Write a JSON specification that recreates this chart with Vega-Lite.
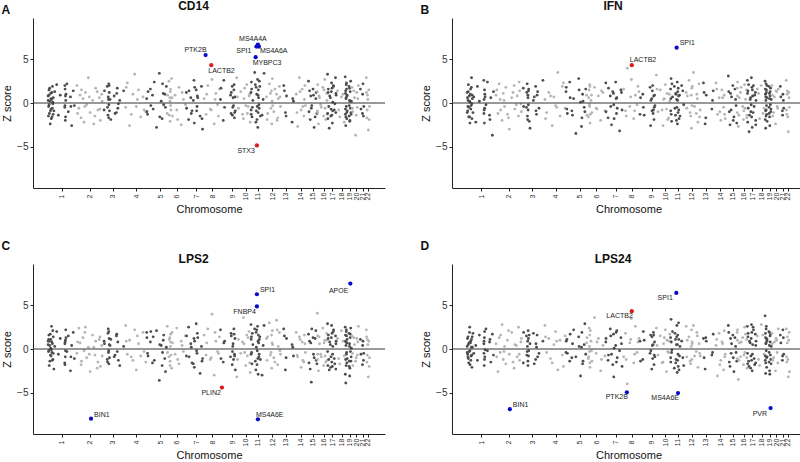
{
"$schema":"https://vega.github.io/schema/vega-lite/v6.json",
"padding":{"left":1,"top":0,"right":0,"bottom":0},
"datasets":{
"genes":[
{"x":1,"a":0.8,"b":1.2,"c":0.5,"d":0.3},{"x":6,"a":-0.4,"b":-0.9,"c":1.1,"d":-0.6},{"x":9,"a":1.5,"b":0.3,"c":-0.2,"d":1.4},{"x":12,"a":-1.2,"b":2.1,"c":0.9,"d":-1.1},{"x":17,"a":0.2,"b":-0.5,"c":-1.4,"d":0.7},{"x":20,"a":-2.4,"b":0.8,"c":1.7,"d":-0.3},{"x":24,"a":1.1,"b":-1.6,"c":0.1,"d":2.5},{"x":27,"a":-0.7,"b":0.1,"c":-0.8,"d":-1.8},{"x":32,"a":0.4,"b":1.6,"c":2.6,"d":0.9},{"x":36,"a":-1.6,"b":-0.3,"c":-0.4,"d":-0.8},{"x":40,"a":1.9,"b":2.9,"c":0.6,"d":1.1},{"x":44,"a":-0.1,"b":-1.8,"c":-1.2,"d":-2.1},{"x":47,"a":0.6,"b":0.5,"c":1.4,"d":0.2},{"x":53,"a":-0.9,"b":-1.1,"c":-2.3,"d":1.8},{"x":60,"a":1.3,"b":0.7,"c":0.3,"d":-0.5},{"x":78,"a":2.1,"b":-2.2,"c":2.0,"d":0.4},{"x":93,"a":-1.4,"b":1.9,"c":-0.6,"d":-1.3},{"x":110,"a":0.9,"b":0.2,"c":1.2,"d":1.6},{"x":150,"a":-0.5,"b":2.6,"c":-1.6,"d":0.6},{"x":153,"a":1.6,"b":-0.8,"c":0.8,"d":-1.9},{"x":155,"a":-2.0,"b":-2.3,"c":-0.9,"d":1.3},{"x":159,"a":0.3,"b":1.0,"c":2.2,"d":-0.9},{"x":169,"a":2.2,"b":-0.2,"c":-0.3,"d":2.3},{"x":182,"a":-1.0,"b":2.4,"c":1.5,"d":-0.2},{"x":201,"a":0.7,"b":-1.4,"c":-2.5,"d":0.8},{"x":212,"a":-2.6,"b":0.6,"c":0.4,"d":-1.5},{"x":226,"a":1.4,"b":-3.7,"c":1.9,"d":1.7},{"x":236,"a":-0.3,"b":1.3,"c":-1.1,"d":-0.7},
{"x":2,"a":0.3,"b":-1.1,"c":0.9,"d":-0.4},{"x":4,"a":-1.5,"b":0.6,"c":-0.3,"d":1.2},{"x":8,"a":0.9,"b":-0.4,"c":1.6,"d":-0.9},{"x":11,"a":-0.2,"b":1.3,"c":-1.9,"d":0.5},{"x":15,"a":1.7,"b":-1.6,"c":0.4,"d":-1.6},{"x":22,"a":-0.9,"b":0.2,"c":-0.7,"d":1.9},{"x":26,"a":0.5,"b":-2.3,"c":1.1,"d":-0.2},{"x":30,"a":-1.8,"b":1.0,"c":-0.1,"d":0.7},{"x":34,"a":1.2,"b":-0.7,"c":0.8,"d":-1.3},{"x":39,"a":-0.6,"b":1.8,"c":-1.3,"d":0.2},{"x":43,"a":0.1,"b":-0.1,"c":2.1,"d":-0.7},{"x":46,"a":-1.3,"b":0.9,"c":-0.5,"d":1.4},{"x":151,"a":2.0,"b":-1.2,"c":0.6,"d":-0.5},{"x":152,"a":-0.3,"b":0.4,"c":-1.8,"d":0.9},{"x":156,"a":0.8,"b":1.5,"c":1.0,"d":-1.2},{"x":157,"a":-1.6,"b":-0.6,"c":-0.2,"d":2.0},{"x":161,"a":1.0,"b":0.7,"c":1.3,"d":-0.1},{"x":205,"a":-0.4,"b":-1.9,"c":-0.9,"d":1.1},
{"x":259,"a":2.0,"b":0.9,"c":-0.5,"d":0.6},{"x":276,"a":-0.6,"b":-1.2,"c":2.4,"d":-2.6},{"x":287,"a":0.9,"b":2.2,"c":0.7,"d":1.3},{"x":296,"a":-1.7,"b":0.4,"c":-1.8,"d":-0.4},{"x":313,"a":0.5,"b":-2.0,"c":1.3,"d":2.8},{"x":323,"a":-2.2,"b":1.1,"c":-0.2,"d":-1.2},{"x":335,"a":1.2,"b":-0.4,"c":2.5,"d":0.3},{"x":346,"a":-0.2,"b":1.8,"c":-1.0,"d":-1.7},{"x":361,"a":2.9,"b":-1.3,"c":0.2,"d":1.0},{"x":377,"a":-1.1,"b":-3.0,"c":-2.6,"d":-0.6},{"x":399,"a":0.3,"b":0.6,"c":1.6,"d":1.9},{"x":420,"a":-1.5,"b":2.0,"c":-0.7,"d":-2.2},{"x":427,"a":1.7,"b":-0.7,"c":0.9,"d":0.5},{"x":447,"a":-0.8,"b":0.8,"c":-1.5,"d":-0.9},{"x":459,"a":0.6,"b":-1.5,"c":1.1,"d":2.5},{"x":469,"a":-2.0,"b":1.4,"c":-2.0,"d":-1.3},{"x":481,"a":1.0,"b":-0.1,"c":0.4,"d":0.8},
{"x":265,"a":-1.2,"b":1.5,"c":0.8,"d":-0.9},{"x":300,"a":1.5,"b":-0.8,"c":-1.4,"d":1.6},{"x":330,"a":-0.4,"b":0.3,"c":1.9,"d":-0.3},{"x":370,"a":0.7,"b":-1.7,"c":-0.6,"d":2.1},{"x":410,"a":-2.4,"b":1.2,"c":0.2,"d":-1.5},{"x":440,"a":1.3,"b":-0.2,"c":-2.2,"d":0.4},{"x":465,"a":-0.7,"b":2.4,"c":1.4,"d":-0.6},{"x":485,"a":0.2,"b":-1.0,"c":-0.8,"d":1.2},
{"x":502,"a":-0.8,"b":1.7,"c":0.9,"d":-1.6},{"x":530,"a":1.9,"b":-0.5,"c":-1.2,"d":1.5},{"x":537,"a":-1.4,"b":2.2,"c":1.8,"d":-0.3},{"x":541,"a":0.4,"b":-1.9,"c":-0.4,"d":0.9},{"x":544,"a":2.2,"b":0.6,"c":2.0,"d":-1.9},{"x":545,"a":-0.2,"b":-0.8,"c":-1.7,"d":2.1},{"x":548,"a":1.2,"b":1.4,"c":0.5,"d":-0.8},{"x":562,"a":-1.9,"b":-2.9,"c":1.1,"d":0.6},{"x":592,"a":0.8,"b":0.3,"c":-0.9,"d":1.8},{"x":612,"a":-1.1,"b":1.9,"c":1.5,"d":-1.2},{"x":620,"a":1.7,"b":-1.3,"c":-0.3,"d":0.2},{"x":625,"a":-0.6,"b":0.9,"c":0.8,"d":1.6},{"x":642,"a":0.3,"b":-0.6,"c":-1.9,"d":-0.5},{"x":677,"a":1.4,"b":2.6,"c":0.3,"d":0.9},
{"x":505,"a":1.4,"b":-0.4,"c":0.6,"d":1.9},{"x":533,"a":-0.5,"b":1.2,"c":-1.5,"d":-0.7},{"x":539,"a":0.7,"b":-1.5,"c":2.3,"d":0.3},{"x":543,"a":-1.7,"b":0.9,"c":-0.2,"d":-1.4},{"x":547,"a":2.0,"b":-0.2,"c":1.2,"d":1.2},{"x":550,"a":-0.9,"b":1.6,"c":-1.0,"d":-0.2},{"x":555,"a":0.4,"b":-2.1,"c":0.4,"d":1.6},{"x":600,"a":-1.2,"b":0.7,"c":-0.7,"d":-1.7},{"x":615,"a":1.1,"b":-0.9,"c":1.7,"d":0.6},{"x":630,"a":-0.1,"b":1.3,"c":-1.3,"d":-0.9},
{"x":695,"a":-0.5,"b":0.4,"c":2.7,"d":2.7},{"x":710,"a":2.3,"b":-1.1,"c":-0.6,"d":-0.4},{"x":730,"a":-2.6,"b":1.2,"c":1.0,"d":1.2},{"x":760,"a":1.0,"b":-2.6,"c":-1.3,"d":-1.6},{"x":775,"a":3.3,"b":0.7,"c":2.2,"d":0.5},{"x":790,"a":-0.4,"b":-0.3,"c":-2.4,"d":2.0},{"x":810,"a":1.5,"b":3.5,"c":0.6,"d":-2.4},{"x":830,"a":-1.6,"b":-1.5,"c":-0.8,"d":1.0},{"x":850,"a":0.7,"b":1.9,"c":1.9,"d":-0.7},{"x":875,"a":-1.0,"b":-0.6,"c":-1.5,"d":1.5},
{"x":700,"a":1.8,"b":-1.8,"c":0.9,"d":1.4},{"x":745,"a":-1.3,"b":0.8,"c":-0.9,"d":-1.1},{"x":800,"a":0.4,"b":-0.5,"c":1.5,"d":0.9},{"x":860,"a":-0.8,"b":2.3,"c":-0.3,"d":-2.0},
{"x":883,"a":0.5,"b":1.3,"c":1.9,"d":-0.4},{"x":891,"a":-1.3,"b":-0.7,"c":-0.5,"d":1.1},{"x":916,"a":1.6,"b":2.4,"c":0.8,"d":-1.4},{"x":941,"a":-0.7,"b":-1.4,"c":1.4,"d":0.6},{"x":951,"a":2.4,"b":0.5,"c":-1.3,"d":2.2},{"x":971,"a":-2.8,"b":-3.5,"c":2.1,"d":-0.9},{"x":996,"a":3.4,"b":2.8,"c":-3.6,"d":1.4},{"x":1013,"a":0.2,"b":0.1,"c":0.4,"d":-3.1},{"x":1021,"a":-1.8,"b":-2.7,"c":-1.9,"d":0.2},{"x":1031,"a":1.1,"b":1.0,"c":1.0,"d":-1.7},{"x":1051,"a":-0.5,"b":-1.0,"c":-2.6,"d":2.9},{"x":1059,"a":1.9,"b":1.6,"c":0.2,"d":-0.6},
{"x":885,"a":-1.0,"b":1.8,"c":1.3,"d":0.9},{"x":895,"a":1.3,"b":-1.2,"c":-0.8,"d":-0.5},{"x":920,"a":-0.3,"b":0.6,"c":2.0,"d":1.7},{"x":935,"a":0.9,"b":-0.9,"c":-1.6,"d":-1.0},{"x":1000,"a":-1.6,"b":1.5,"c":0.5,"d":0.3},{"x":1025,"a":2.2,"b":-1.7,"c":-0.4,"d":1.9},{"x":1035,"a":-0.2,"b":0.2,"c":1.6,"d":-1.4},{"x":1045,"a":1.0,"b":-0.5,"c":-1.1,"d":0.5},
{"x":1067,"a":-1.2,"b":0.9,"c":2.6,"d":0.7},{"x":1082,"a":2.5,"b":-1.6,"c":-0.9,"d":-1.1},{"x":1090,"a":0.6,"b":1.5,"c":1.3,"d":2.4},{"x":1093,"a":-2.1,"b":-0.4,"c":-1.4,"d":-0.3},{"x":1095,"a":1.3,"b":2.1,"c":0.3,"d":1.6},{"x":1097,"a":-0.3,"b":-2.3,"c":1.7,"d":-2.1},{"x":1106,"a":2.8,"b":0.3,"c":-2.2,"d":0.9},{"x":1114,"a":-1.5,"b":-1.1,"c":0.7,"d":-1.4},{"x":1137,"a":0.9,"b":1.8,"c":-0.6,"d":3.6},{"x":1152,"a":-0.8,"b":-0.6,"c":2.4,"d":-0.5},{"x":1172,"a":1.8,"b":0.8,"c":-1.7,"d":1.2},{"x":1192,"a":-2.5,"b":-2.0,"c":0.9,"d":-2.5},{"x":1212,"a":0.4,"b":1.2,"c":-0.3,"d":0.4},{"x":1230,"a":-0.2,"b":-0.9,"c":1.5,"d":-0.8},
{"x":1070,"a":0.9,"b":-1.4,"c":-0.4,"d":1.3},{"x":1085,"a":-1.4,"b":0.6,"c":1.1,"d":-0.9},{"x":1092,"a":0.2,"b":-0.2,"c":-1.9,"d":0.3},{"x":1096,"a":1.6,"b":1.9,"c":0.8,"d":-1.6},{"x":1100,"a":-0.8,"b":-1.3,"c":-0.7,"d":2.1},{"x":1110,"a":0.6,"b":0.9,"c":1.9,"d":-0.2},{"x":1160,"a":-1.9,"b":-0.7,"c":-1.2,"d":0.8},{"x":1200,"a":1.2,"b":1.4,"c":0.4,"d":-1.2},
{"x":1238,"a":1.2,"b":2.3,"c":-0.8,"d":0.8},{"x":1258,"a":-1.9,"b":-1.7,"c":2.5,"d":-1.3},{"x":1278,"a":0.6,"b":0.8,"c":0.6,"d":2.3},{"x":1289,"a":-0.9,"b":-2.5,"c":-1.6,"d":-0.6},{"x":1306,"a":2.6,"b":1.1,"c":1.2,"d":1.7},{"x":1309,"a":-2.3,"b":-0.2,"c":-2.1,"d":-3.2},{"x":1326,"a":1.5,"b":2.4,"c":2.9,"d":0.4},{"x":1333,"a":-0.4,"b":-1.2,"c":-0.5,"d":-1.5},{"x":1336,"a":0.8,"b":0.6,"c":1.8,"d":2.1},{"x":1361,"a":-1.5,"b":-3.2,"c":-2.8,"d":-0.2},{"x":1373,"a":1.9,"b":1.5,"c":0.3,"d":1.3},{"x":1383,"a":-3.0,"b":-0.8,"c":-1.1,"d":-2.0},
{"x":1240,"a":-0.6,"b":-1.0,"c":1.5,"d":1.2},{"x":1262,"a":1.4,"b":1.7,"c":-0.9,"d":-0.7},{"x":1282,"a":-1.2,"b":-0.4,"c":0.2,"d":1.5},{"x":1300,"a":0.3,"b":1.3,"c":-1.7,"d":-1.8},{"x":1312,"a":1.8,"b":-1.8,"c":0.9,"d":0.1},{"x":1330,"a":-0.9,"b":0.5,"c":-0.2,"d":1.9},{"x":1340,"a":0.6,"b":-0.6,"c":1.3,"d":-1.0},{"x":1378,"a":-1.8,"b":1.2,"c":-1.4,"d":0.6},
{"x":1397,"a":0.5,"b":1.6,"c":1.6,"d":-0.9},{"x":1414,"a":-1.3,"b":-0.9,"c":-0.7,"d":1.8},{"x":1430,"a":2.0,"b":4.0,"c":2.3,"d":-4.0},{"x":1452,"a":-0.7,"b":-0.4,"c":-1.2,"d":0.7},{"x":1467,"a":2.7,"b":2.7,"c":4.0,"d":3.5},{"x":1487,"a":-2.4,"b":-1.8,"c":-3.0,"d":-1.6},{"x":1502,"a":1.1,"b":0.9,"c":0.9,"d":2.6},{"x":1517,"a":-0.2,"b":-0.2,"c":-0.3,"d":-0.4},{"x":1534,"a":1.6,"b":1.3,"c":1.4,"d":1.2},
{"x":1420,"a":1.0,"b":-1.5,"c":0.7,"d":-1.2},{"x":1460,"a":-0.8,"b":0.7,"c":-1.0,"d":1.1},{"x":1495,"a":0.4,"b":-0.9,"c":1.9,"d":-0.6},{"x":1525,"a":-1.5,"b":1.9,"c":-0.5,"d":0.8},
{"x":1543,"a":0.4,"b":-1.3,"c":2.2,"d":0.9},{"x":1568,"a":-2.0,"b":1.0,"c":-1.5,"d":-1.2},{"x":1573,"a":2.6,"b":-0.5,"c":0.7,"d":2.0},{"x":1633,"a":0.9,"b":1.8,"c":-0.9,"d":-0.5},{"x":1638,"a":-1.2,"b":-2.6,"c":1.8,"d":1.6},{"x":1648,"a":1.9,"b":0.5,"c":-1.8,"d":-2.3},{"x":1653,"a":-0.5,"b":1.4,"c":0.3,"d":0.4},{"x":1663,"a":1.5,"b":-0.8,"c":2.3,"d":1.9},{"x":1668,"a":-1.7,"b":-1.9,"c":-0.6,"d":-1.8},{"x":1673,"a":0.7,"b":0.9,"c":1.2,"d":0.8},{"x":1676,"a":-0.9,"b":-0.3,"c":-2.4,"d":-0.9},
{"x":1548,"a":1.7,"b":0.6,"c":-1.1,"d":-1.4},{"x":1580,"a":-0.5,"b":-1.4,"c":0.9,"d":1.0},{"x":1640,"a":1.2,"b":0.3,"c":1.5,"d":-0.2},{"x":1650,"a":-1.4,"b":-0.9,"c":-0.3,"d":1.4},{"x":1656,"a":0.6,"b":2.0,"c":0.6,"d":-1.1},{"x":1660,"a":-0.3,"b":-1.2,"c":-1.2,"d":0.5},{"x":1665,"a":2.1,"b":0.8,"c":1.7,"d":1.6},{"x":1670,"a":-1.1,"b":-0.5,"c":-0.8,"d":-0.7},
{"x":1689,"a":2.9,"b":3.2,"c":-3.2,"d":2.4},{"x":1704,"a":-0.6,"b":-1.0,"c":1.1,"d":-0.7},{"x":1724,"a":1.3,"b":1.5,"c":-0.5,"d":1.5},{"x":1749,"a":-1.8,"b":-2.6,"c":3.6,"d":-1.5},{"x":1754,"a":0.5,"b":0.4,"c":0.6,"d":0.6},{"x":1769,"a":-0.3,"b":2.1,"c":-1.9,"d":2.2},{"x":1779,"a":2.1,"b":-0.7,"c":1.6,"d":-2.6},{"x":1784,"a":-1.2,"b":1.1,"c":-0.8,"d":1.0},{"x":1799,"a":0.8,"b":-1.7,"c":2.0,"d":-0.4},{"x":1809,"a":-2.2,"b":0.2,"c":-2.7,"d":1.7},
{"x":1695,"a":0.7,"b":1.6,"c":-1.2,"d":0.4},{"x":1740,"a":-1.3,"b":-0.8,"c":0.8,"d":-1.6},{"x":1760,"a":1.7,"b":0.5,"c":-0.4,"d":1.3},{"x":1790,"a":-0.4,"b":-1.9,"c":1.3,"d":-0.3},{"x":1805,"a":1.0,"b":1.0,"c":-1.6,"d":0.9},
{"x":1816,"a":1.2,"b":1.6,"c":2.8,"d":1.3},{"x":1817,"a":-0.8,"b":-0.9,"c":-0.6,"d":-1.0},{"x":1820,"a":2.4,"b":2.8,"c":1.4,"d":3.4},{"x":1825,"a":-1.6,"b":-2.1,"c":-1.7,"d":-0.4},{"x":1833,"a":0.3,"b":0.7,"c":0.5,"d":2.0},{"x":1849,"a":3.5,"b":1.9,"c":2.3,"d":-2.2},{"x":1860,"a":-2.2,"b":-1.4,"c":-2.4,"d":1.1},{"x":1862,"a":1.8,"b":1.1,"c":1.9,"d":-1.6},{"x":1872,"a":-0.4,"b":-0.5,"c":-0.2,"d":2.7},{"x":1875,"a":2.7,"b":2.4,"c":2.6,"d":-2.7},{"x":1877,"a":-2.8,"b":-2.4,"c":-1.1,"d":0.5},{"x":1879,"a":0.9,"b":0.3,"c":0.9,"d":-1.3},{"x":1880,"a":-1.1,"b":1.3,"c":-2.9,"d":1.6},{"x":1882,"a":1.5,"b":-1.1,"c":1.6,"d":-0.6},{"x":1887,"a":-0.2,"b":0.8,"c":-0.9,"d":3.0},{"x":1891,"a":2.5,"b":-1.8,"c":1.1,"d":-2.4},{"x":1915,"a":-1.4,"b":2.0,"c":-3.0,"d":0.9},{"x":1933,"a":3.4,"b":-0.2,"c":2.7,"d":-1.9},
{"x":1818,"a":-1.3,"b":0.5,"c":1.1,"d":-1.5},{"x":1822,"a":1.6,"b":-1.3,"c":-0.4,"d":0.8},{"x":1828,"a":-0.5,"b":2.2,"c":1.8,"d":-0.1},{"x":1855,"a":2.1,"b":-0.6,"c":-1.4,"d":1.8},{"x":1864,"a":-0.9,"b":1.0,"c":0.2,"d":-1.2},{"x":1868,"a":1.0,"b":-2.0,"c":2.2,"d":0.5},{"x":1870,"a":-1.9,"b":0.4,"c":-1.8,"d":1.4},{"x":1884,"a":0.6,"b":1.7,"c":0.7,"d":-2.0},{"x":1889,"a":-0.6,"b":-0.8,"c":-0.6,"d":1.1},{"x":1895,"a":1.9,"b":0.9,"c":1.4,"d":-0.8},{"x":1900,"a":-1.5,"b":-1.5,"c":-1.2,"d":0.3},{"x":1925,"a":0.4,"b":1.4,"c":0.4,"d":-1.0},
{"x":1955,"a":0.7,"b":1.2,"c":1.2,"d":2.6},{"x":1960,"a":-1.9,"b":-0.6,"c":-1.3,"d":-0.9},{"x":1980,"a":2.2,"b":2.6,"c":3.0,"d":1.4},{"x":1995,"a":-0.6,"b":-1.5,"c":-0.4,"d":-1.7},{"x":2000,"a":1.4,"b":0.9,"c":1.6,"d":0.3},{"x":2002,"a":-2.4,"b":-2.9,"c":-2.2,"d":2.2},{"x":2005,"a":0.2,"b":1.7,"c":0.7,"d":-1.2},{"x":2007,"a":2.8,"b":-0.3,"c":2.1,"d":0.8},{"x":2020,"a":-1.0,"b":3.5,"c":-1.0,"d":2.7},{"x":2045,"a":1.0,"b":-1.2,"c":3.3,"d":-0.3},{"x":2055,"a":-1.7,"b":0.5,"c":-1.8,"d":1.5},{"x":2060,"a":0.5,"b":-2.2,"c":0.3,"d":-2.1},{"x":2070,"a":1.9,"b":2.2,"c":1.9,"d":0.6},{"x":2080,"a":-0.4,"b":-0.8,"c":-0.6,"d":-0.8},
{"x":1965,"a":-1.2,"b":0.8,"c":1.4,"d":1.0},{"x":1990,"a":1.1,"b":-1.1,"c":-0.7,"d":-1.4},{"x":2010,"a":-0.3,"b":1.9,"c":0.5,"d":0.6},{"x":2030,"a":1.6,"b":-0.4,"c":-1.5,"d":-0.8},{"x":2050,"a":-2.0,"b":1.0,"c":2.2,"d":1.9},{"x":2075,"a":0.7,"b":-1.6,"c":-0.2,"d":-0.5},
{"x":2109,"a":2.0,"b":2.3,"c":2.3,"d":1.2},{"x":2124,"a":-1.1,"b":-2.4,"c":-2.4,"d":-2.3},{"x":2134,"a":0.8,"b":0.9,"c":1.2,"d":0.9},{"x":2184,"a":-2.2,"b":-0.7,"c":0.5,"d":-0.7},{"x":2196,"a":0.2,"b":1.4,"c":-0.8,"d":1.7},
{"x":2115,"a":1.4,"b":1.2,"c":1.5,"d":-1.0},{"x":2130,"a":-1.5,"b":-1.7,"c":-1.0,"d":1.3},{"x":2190,"a":0.5,"b":0.3,"c":0.2,"d":-0.4},
{"x":2221,"a":1.0,"b":2.3,"c":1.9,"d":0.4},{"x":2234,"a":-2.7,"b":-1.3,"c":-0.9,"d":-3.1},{"x":2249,"a":2.9,"b":0.6,"c":1.4,"d":1.8},{"x":2264,"a":-0.8,"b":-2.0,"c":-2.1,"d":-1.3},{"x":2274,"a":1.6,"b":1.5,"c":0.8,"d":0.8},{"x":2289,"a":-1.5,"b":-0.5,"c":-1.5,"d":-2.4},{"x":2294,"a":0.4,"b":0.9,"c":1.6,"d":2.1},{"x":2303,"a":-0.3,"b":-1.8,"c":-0.4,"d":-0.6},
{"x":2228,"a":-1.1,"b":1.6,"c":-0.7,"d":1.1},{"x":2255,"a":1.3,"b":-1.0,"c":1.1,"d":-1.8},{"x":2280,"a":-0.4,"b":0.6,"c":-1.3,"d":0.6},{"x":2298,"a":2.0,"b":-1.3,"c":0.6,"d":-0.9},
{"x":2331,"a":2.5,"b":3.1,"c":1.7,"d":2.7},{"x":2346,"a":-1.9,"b":-2.5,"c":-2.3,"d":-2.0},{"x":2351,"a":0.8,"b":1.1,"c":0.7,"d":1.2},{"x":2356,"a":-0.6,"b":-0.8,"c":-3.8,"d":-0.5},{"x":2371,"a":1.6,"b":2.0,"c":1.3,"d":1.6},{"x":2381,"a":-2.8,"b":-1.6,"c":-1.0,"d":-2.6},{"x":2396,"a":0.5,"b":0.4,"c":2.1,"d":0.3},{"x":2406,"a":-1.2,"b":-2.3,"c":-1.7,"d":-1.4},
{"x":2335,"a":-1.0,"b":1.3,"c":-1.6,"d":1.9},{"x":2340,"a":1.4,"b":-1.0,"c":0.9,"d":-1.5},{"x":2360,"a":-0.3,"b":0.7,"c":2.3,"d":0.6},{"x":2375,"a":0.9,"b":-2.0,"c":-0.6,"d":-1.0},{"x":2390,"a":-1.6,"b":1.6,"c":1.2,"d":1.3},{"x":2400,"a":1.2,"b":-0.3,"c":-1.3,"d":-0.4},
{"x":2410,"a":1.3,"b":1.7,"c":4.1,"d":1.9},{"x":2411,"a":-0.9,"b":-1.1,"c":-1.2,"d":-1.1},{"x":2413,"a":2.1,"b":2.4,"c":1.5,"d":2.2},{"x":2420,"a":-2.4,"b":-2.7,"c":-2.5,"d":-3.5},{"x":2429,"a":0.6,"b":0.6,"c":0.6,"d":0.7},{"x":2439,"a":-0.2,"b":1.2,"c":-0.6,"d":-0.9},{"x":2459,"a":1.8,"b":-0.4,"c":2.4,"d":1.3},{"x":2466,"a":-1.5,"b":-1.9,"c":-1.9,"d":-1.8},{"x":2476,"a":2.7,"b":2.1,"c":1.0,"d":2.5},{"x":2479,"a":-0.6,"b":-0.6,"c":-0.8,"d":-0.4},{"x":2494,"a":1.1,"b":1.5,"c":1.8,"d":1.1},{"x":2498,"a":-1.3,"b":-1.4,"c":-1.3,"d":-2.2},
{"x":2412,"a":-1.1,"b":0.8,"c":-0.6,"d":1.0},{"x":2425,"a":0.8,"b":-1.4,"c":1.4,"d":-1.3},{"x":2445,"a":-0.5,"b":1.8,"c":-0.9,"d":0.8},{"x":2470,"a":1.5,"b":-0.9,"c":0.7,"d":-0.7},{"x":2485,"a":-1.9,"b":0.4,"c":-1.5,"d":1.7},{"x":2496,"a":0.3,"b":-1.7,"c":1.0,"d":-1.0},
{"x":2501,"a":3.3,"b":2.6,"c":2.9,"d":2.6},{"x":2504,"a":-1.8,"b":-2.2,"c":-1.9,"d":-1.7},{"x":2506,"a":1.2,"b":1.4,"c":1.2,"d":1.4},{"x":2516,"a":-2.9,"b":-3.3,"c":-2.4,"d":-2.0},{"x":2526,"a":0.6,"b":0.4,"c":0.5,"d":0.7},{"x":2532,"a":-0.7,"b":-1.0,"c":-0.9,"d":-0.8},{"x":2537,"a":2.3,"b":2.9,"c":2.7,"d":2.8},{"x":2539,"a":-1.4,"b":-1.6,"c":-1.5,"d":-1.3},{"x":2541,"a":1.7,"b":1.8,"c":1.8,"d":1.9},{"x":2544,"a":-2.3,"b":-2.8,"c":-2.0,"d":-2.5},{"x":2548,"a":0.1,"b":0.8,"c":0.3,"d":0.5},{"x":2555,"a":1.9,"b":2.0,"c":2.2,"d":2.2},{"x":2561,"a":-0.8,"b":-0.4,"c":-1.1,"d":-1.1},{"x":2572,"a":2.9,"b":1.2,"c":1.5,"d":1.7},{"x":2575,"a":-1.1,"b":-2.0,"c":-2.3,"d":-1.6},{"x":2578,"a":0.9,"b":0.3,"c":0.9,"d":0.9},
{"x":2502,"a":-1.2,"b":1.1,"c":-0.3,"d":-0.5},{"x":2508,"a":1.6,"b":-0.6,"c":1.6,"d":1.8},{"x":2512,"a":-0.4,"b":2.1,"c":-1.2,"d":-1.4},{"x":2520,"a":0.8,"b":-1.4,"c":0.8,"d":0.9},{"x":2530,"a":-1.5,"b":0.6,"c":-2.1,"d":-2.2},{"x":2535,"a":1.3,"b":-0.2,"c":1.3,"d":1.2},{"x":2546,"a":-0.9,"b":1.5,"c":-0.6,"d":-0.6},{"x":2552,"a":2.0,"b":-1.1,"c":2.0,"d":2.5},{"x":2566,"a":-0.1,"b":0.9,"c":-1.7,"d":-1.8},{"x":2576,"a":1.1,"b":-2.5,"c":0.6,"d":0.4},
{"x":2590,"a":1.4,"b":1.6,"c":1.2,"d":1.5},{"x":2610,"a":-1.6,"b":-1.8,"c":-1.7,"d":-1.9},{"x":2625,"a":0.7,"b":2.0,"c":2.1,"d":2.8},{"x":2650,"a":-2.2,"b":-0.6,"c":-0.8,"d":-0.6},
{"x":2600,"a":-0.8,"b":1.1,"c":-1.1,"d":-1.2},{"x":2640,"a":1.0,"b":-1.2,"c":0.9,"d":1.6},
{"x":2659,"a":3.0,"b":2.5,"c":2.5,"d":3.8},{"x":2660,"a":-1.3,"b":-1.9,"c":-2.9,"d":-1.3},{"x":2662,"a":1.1,"b":1.0,"c":0.9,"d":1.8},{"x":2664,"a":-2.6,"b":-2.9,"c":-3.9,"d":-2.8},{"x":2666,"a":0.5,"b":0.3,"c":0.4,"d":0.6},{"x":2668,"a":2.1,"b":2.2,"c":2.0,"d":2.3},{"x":2669,"a":-0.4,"b":-0.8,"c":-0.6,"d":-0.2},{"x":2671,"a":1.6,"b":1.5,"c":1.5,"d":1.2},{"x":2673,"a":-1.8,"b":-1.3,"c":-1.6,"d":-2.1},{"x":2675,"a":0.8,"b":0.6,"c":0.7,"d":0.9},{"x":2677,"a":-0.9,"b":-2.1,"c":-1.1,"d":-0.9},{"x":2693,"a":1.9,"b":1.9,"c":1.8,"d":2.0},{"x":2694,"a":-1.5,"b":-0.5,"c":-2.0,"d":-1.5},{"x":2697,"a":0.3,"b":1.1,"c":0.3,"d":0.4},{"x":2699,"a":-2.1,"b":-1.6,"c":-3.1,"d":-2.5},{"x":2703,"a":1.3,"b":0.8,"c":1.3,"d":1.5},{"x":2706,"a":-0.6,"b":-0.2,"c":-0.3,"d":-0.7},{"x":2708,"a":2.5,"b":1.7,"c":2.4,"d":1.7},{"x":2710,"a":-1.1,"b":-1.0,"c":-1.4,"d":-1.2},{"x":2714,"a":0.2,"b":0.4,"c":0.1,"d":0.3},
{"x":2661,"a":-0.7,"b":1.6,"c":1.6,"d":-0.8},{"x":2663,"a":1.4,"b":-0.9,"c":-1.2,"d":1.3},{"x":2665,"a":-1.6,"b":0.7,"c":0.8,"d":-1.6},{"x":2667,"a":0.6,"b":-1.5,"c":-1.9,"d":0.7},{"x":2670,"a":2.3,"b":1.2,"c":2.2,"d":2.6},{"x":2672,"a":-1.1,"b":-0.3,"c":-0.4,"d":-1.0},{"x":2676,"a":0.9,"b":2.0,"c":1.1,"d":1.1},{"x":2695,"a":-0.3,"b":-1.2,"c":-1.4,"d":-0.4},{"x":2698,"a":1.7,"b":0.5,"c":0.6,"d":1.9},{"x":2701,"a":-2.0,"b":-2.6,"c":-2.2,"d":-2.9},{"x":2704,"a":0.2,"b":1.3,"c":1.7,"d":0.8},{"x":2712,"a":-1.3,"b":-0.7,"c":-0.9,"d":-1.7},
{"x":2720,"a":1.8,"b":2.0,"c":1.5,"d":1.8},{"x":2727,"a":-1.0,"b":-1.5,"c":-1.9,"d":-1.3},{"x":2742,"a":0.6,"b":0.7,"c":0.5,"d":0.8},{"x":2752,"a":-3.7,"b":-2.4,"c":-1.4,"d":-2.5},{"x":2762,"a":1.2,"b":1.3,"c":1.2,"d":1.0},{"x":2767,"a":-0.5,"b":-0.4,"c":-0.7,"d":-0.4},{"x":2777,"a":2.0,"b":1.6,"c":2.6,"d":2.3},
{"x":2724,"a":-0.6,"b":0.9,"c":-0.5,"d":0.6},{"x":2735,"a":1.4,"b":-1.1,"c":1.3,"d":-1.0},{"x":2757,"a":-1.4,"b":1.4,"c":-1.0,"d":1.2},{"x":2772,"a":0.5,"b":-0.6,"c":0.8,"d":-1.6},
{"x":2795,"a":1.6,"b":1.9,"c":1.1,"d":1.6},{"x":2813,"a":-1.2,"b":-0.9,"c":-1.8,"d":-1.3},{"x":2818,"a":2.2,"b":1.0,"c":0.9,"d":2.2},{"x":2825,"a":-0.4,"b":-0.6,"c":-0.5,"d":-0.6},
{"x":2800,"a":-0.7,"b":0.7,"c":-0.6,"d":0.7},{"x":2815,"a":1.0,"b":-1.4,"c":0.4,"d":-0.8},{"x":2822,"a":-1.5,"b":0.3,"c":-1.3,"d":1.3},
{"x":2848,"a":2.9,"b":2.6,"c":2.2,"d":2.3},{"x":2853,"a":-1.7,"b":-1.3,"c":-1.5,"d":-1.5},{"x":2858,"a":0.9,"b":1.4,"c":1.1,"d":1.4},{"x":2866,"a":-3.1,"b":-3.3,"c":-3.2,"d":-3.2},{"x":2870,"a":1.5,"b":1.2,"c":0.9,"d":1.0},{"x":2876,"a":-0.4,"b":-0.5,"c":-1.0,"d":-2.6},
{"x":2850,"a":1.2,"b":-0.8,"c":1.4,"d":-0.9},{"x":2856,"a":-0.8,"b":1.0,"c":-0.7,"d":0.7},{"x":2862,"a":0.4,"b":-1.6,"c":0.5,"d":-1.2},{"x":2873,"a":-1.9,"b":0.6,"c":-2.0,"d":1.9}
],
"hA":[{"g":"PTK2B","x":1410,"z":5.5,"t":"b"},{"g":"LACTB2","x":1461,"z":4.34,"t":"r"},{"g":"MS4A4A","x":1878,"z":6.7,"t":"b"},{"g":"SPI1","x":1865,"z":6.47,"t":"b"},{"g":"MS4A6A","x":1887,"z":6.47,"t":"b"},{"g":"MYBPC3","x":1858,"z":5.26,"t":"b"},{"g":"STX3","x":1869,"z":-4.87,"t":"r"}],
"hB":[{"g":"SPI1","x":1870,"z":6.34,"t":"b"},{"g":"LACTB2","x":1470,"z":4.34,"t":"r"}],
"hC":[{"g":"SPI1","x":1869,"z":6.28,"t":"b"},{"g":"FNBP4","x":1869,"z":4.88,"t":"b"},{"g":"APOE","x":2705,"z":7.51,"t":"b"},{"g":"PLIN2","x":1556,"z":-4.42,"t":"r"},{"g":"BIN1","x":385,"z":-7.99,"t":"b"},{"g":"MS4A6E","x":1878,"z":-8.07,"t":"b"}],
"hD":[{"g":"SPI1","x":1867,"z":6.43,"t":"b"},{"g":"LACTB2","x":1470,"z":4.34,"t":"r"},{"g":"PTK2B","x":1426,"z":-4.97,"t":"b"},{"g":"MS4A6E","x":1882,"z":-5.05,"t":"b"},{"g":"BIN1","x":382,"z":-6.9,"t":"b"},{"g":"PVR","x":2708,"z":-6.78,"t":"b"}]
},
"vconcat":[
{"hconcat":[
{"title":{"text":"A","anchor":"start","frame":"bounds","offset":-17},
 "vconcat":[{"width":352,"height":170,
  "title":{"text":"CD14","anchor":"middle","frame":"bounds","offset":5},
  "resolve":{"scale":{"color":"independent"}},
  "layer":[
   {"data":{"name":"genes"},"mark":{"type":"circle","size":8,"opacity":1},
    "encoding":{
     "x":{"field":"x","type":"quantitative","scale":{"domain":[-134,3015],"nice":false,"zero":false},
      "axis":{"title":"Chromosome","tickCount":40,"labelOverlap":false,"values":[125,373,581,790,1004,1154,1326,1470,1648,1768,1878,2006,2129,2260,2370,2469,2543,2630,2699,2758,2818,2862],"labelExpr":"indexof([125,373,581,790,1004,1154,1326,1470,1648,1768,1878,2006,2129,2260,2370,2469,2543,2630,2699,2758,2818,2862],datum.value)+1"}},
     "y":{"field":"a","type":"quantitative","scale":{"domain":[-9.75,9.75],"nice":false,"zero":false},"axis":{"title":"Z score","values":[-5,0,5]}},
     "color":{"field":"x","type":"quantitative","scale":{"type":"threshold","domain":[249,492,690,881,1062,1233,1392,1538,1679,1815,1950,2084,2199,2306,2409,2499,2580,2658,2717,2780,2828],"range":["#4d4d4d","#b5b5b5","#4d4d4d","#b5b5b5","#4d4d4d","#b5b5b5","#4d4d4d","#b5b5b5","#4d4d4d","#b5b5b5","#4d4d4d","#b5b5b5","#4d4d4d","#b5b5b5","#4d4d4d","#b5b5b5","#4d4d4d","#b5b5b5","#4d4d4d","#b5b5b5","#4d4d4d","#b5b5b5"]},"legend":null}}},
   {"data":{"values":[{}]},"mark":{"type":"rule","color":"#333333","strokeWidth":1},"encoding":{"y":{"datum":0,"type":"quantitative"}}},
   {"data":{"name":"hA"},"mark":{"type":"circle","size":18,"opacity":1},"encoding":{"x":{"field":"x","type":"quantitative"},"y":{"field":"z","type":"quantitative"},"color":{"field":"t","type":"nominal","scale":{"domain":["b","r"],"range":["#0a0acc","#e01a1a"]},"legend":null}}},
   {"data":{"name":"hA"},"transform":[{"filter":"datum.g=='PTK2B'"}],"mark":{"type":"text","align":"right","dx":1,"dy":-5.5},"encoding":{"x":{"field":"x","type":"quantitative"},"y":{"field":"z","type":"quantitative"},"text":{"field":"g"}}},
   {"data":{"name":"hA"},"transform":[{"filter":"indexof(['LACTB2','MYBPC3'],datum.g)>=0"}],"mark":{"type":"text","align":"left","dx":-3,"dy":5.5},"encoding":{"x":{"field":"x","type":"quantitative"},"y":{"field":"z","type":"quantitative"},"text":{"field":"g"}}},
   {"data":{"name":"hA"},"transform":[{"filter":"datum.g=='MS4A4A'"}],"mark":{"type":"text","align":"center","dx":-5,"dy":-5.5},"encoding":{"x":{"field":"x","type":"quantitative"},"y":{"field":"z","type":"quantitative"},"text":{"field":"g"}}},
   {"data":{"name":"hA"},"transform":[{"filter":"datum.g=='SPI1'"}],"mark":{"type":"text","align":"right","dx":-5,"dy":4},"encoding":{"x":{"field":"x","type":"quantitative"},"y":{"field":"z","type":"quantitative"},"text":{"field":"g"}}},
   {"data":{"name":"hA"},"transform":[{"filter":"datum.g=='MS4A6A'"}],"mark":{"type":"text","align":"left","dx":1,"dy":4},"encoding":{"x":{"field":"x","type":"quantitative"},"y":{"field":"z","type":"quantitative"},"text":{"field":"g"}}},
   {"data":{"name":"hA"},"transform":[{"filter":"datum.g=='STX3'"}],"mark":{"type":"text","align":"right","dx":-2,"dy":5.5},"encoding":{"x":{"field":"x","type":"quantitative"},"y":{"field":"z","type":"quantitative"},"text":{"field":"g"}}}
  ]}]},
{"title":{"text":"B","anchor":"start","frame":"bounds","offset":-17},
 "vconcat":[{"width":353,"height":170,
  "title":{"text":"IFN","anchor":"middle","frame":"bounds","offset":5},
  "resolve":{"scale":{"color":"independent"}},
  "layer":[
   {"data":{"name":"genes"},"mark":{"type":"circle","size":8,"opacity":1},
    "encoding":{
     "x":{"field":"x","type":"quantitative","scale":{"domain":[-134,3015],"nice":false,"zero":false},
      "axis":{"title":"Chromosome","tickCount":40,"labelOverlap":false,"values":[125,373,581,790,1004,1154,1326,1470,1648,1768,1878,2006,2129,2260,2370,2469,2543,2630,2699,2758,2818,2862],"labelExpr":"indexof([125,373,581,790,1004,1154,1326,1470,1648,1768,1878,2006,2129,2260,2370,2469,2543,2630,2699,2758,2818,2862],datum.value)+1"}},
     "y":{"field":"b","type":"quantitative","scale":{"domain":[-9.75,9.75],"nice":false,"zero":false},"axis":{"title":"Z score","values":[-5,0,5]}},
     "color":{"field":"x","type":"quantitative","scale":{"type":"threshold","domain":[249,492,690,881,1062,1233,1392,1538,1679,1815,1950,2084,2199,2306,2409,2499,2580,2658,2717,2780,2828],"range":["#4d4d4d","#b5b5b5","#4d4d4d","#b5b5b5","#4d4d4d","#b5b5b5","#4d4d4d","#b5b5b5","#4d4d4d","#b5b5b5","#4d4d4d","#b5b5b5","#4d4d4d","#b5b5b5","#4d4d4d","#b5b5b5","#4d4d4d","#b5b5b5","#4d4d4d","#b5b5b5","#4d4d4d","#b5b5b5"]},"legend":null}}},
   {"data":{"values":[{}]},"mark":{"type":"rule","color":"#333333","strokeWidth":1},"encoding":{"y":{"datum":0,"type":"quantitative"}}},
   {"data":{"name":"hB"},"mark":{"type":"circle","size":18,"opacity":1},"encoding":{"x":{"field":"x","type":"quantitative"},"y":{"field":"z","type":"quantitative"},"color":{"field":"t","type":"nominal","scale":{"domain":["b","r"],"range":["#0a0acc","#e01a1a"]},"legend":null}}},
   {"data":{"name":"hB"},"transform":[{"filter":"datum.g=='SPI1'"}],"mark":{"type":"text","align":"left","dx":3,"dy":-5},"encoding":{"x":{"field":"x","type":"quantitative"},"y":{"field":"z","type":"quantitative"},"text":{"field":"g"}}},
   {"data":{"name":"hB"},"transform":[{"filter":"datum.g=='LACTB2'"}],"mark":{"type":"text","align":"left","dx":-2,"dy":-5.5},"encoding":{"x":{"field":"x","type":"quantitative"},"y":{"field":"z","type":"quantitative"},"text":{"field":"g"}}}
  ]}]}
],"spacing":34},
{"hconcat":[
{"title":{"text":"C","anchor":"start","frame":"bounds","offset":0},
 "vconcat":[{"width":352,"height":170,
  "title":{"text":"LPS2","anchor":"middle","frame":"bounds","offset":-2},
  "resolve":{"scale":{"color":"independent"}},
  "layer":[
   {"data":{"name":"genes"},"mark":{"type":"circle","size":8,"opacity":1},
    "encoding":{
     "x":{"field":"x","type":"quantitative","scale":{"domain":[-134,3015],"nice":false,"zero":false},
      "axis":{"title":"Chromosome","tickCount":40,"labelOverlap":false,"values":[125,373,581,790,1004,1154,1326,1470,1648,1768,1878,2006,2129,2260,2370,2469,2543,2630,2699,2758,2818,2862],"labelExpr":"indexof([125,373,581,790,1004,1154,1326,1470,1648,1768,1878,2006,2129,2260,2370,2469,2543,2630,2699,2758,2818,2862],datum.value)+1"}},
     "y":{"field":"c","type":"quantitative","scale":{"domain":[-9.75,9.75],"nice":false,"zero":false},"axis":{"title":"Z score","values":[-5,0,5]}},
     "color":{"field":"x","type":"quantitative","scale":{"type":"threshold","domain":[249,492,690,881,1062,1233,1392,1538,1679,1815,1950,2084,2199,2306,2409,2499,2580,2658,2717,2780,2828],"range":["#4d4d4d","#b5b5b5","#4d4d4d","#b5b5b5","#4d4d4d","#b5b5b5","#4d4d4d","#b5b5b5","#4d4d4d","#b5b5b5","#4d4d4d","#b5b5b5","#4d4d4d","#b5b5b5","#4d4d4d","#b5b5b5","#4d4d4d","#b5b5b5","#4d4d4d","#b5b5b5","#4d4d4d","#b5b5b5"]},"legend":null}}},
   {"data":{"values":[{}]},"mark":{"type":"rule","color":"#333333","strokeWidth":1},"encoding":{"y":{"datum":0,"type":"quantitative"}}},
   {"data":{"name":"hC"},"mark":{"type":"circle","size":18,"opacity":1},"encoding":{"x":{"field":"x","type":"quantitative"},"y":{"field":"z","type":"quantitative"},"color":{"field":"t","type":"nominal","scale":{"domain":["b","r"],"range":["#0a0acc","#e01a1a"]},"legend":null}}},
   {"data":{"name":"hC"},"transform":[{"filter":"indexof(['SPI1','BIN1'],datum.g)>=0"}],"mark":{"type":"text","align":"left","dx":3,"dy":-4},"encoding":{"x":{"field":"x","type":"quantitative"},"y":{"field":"z","type":"quantitative"},"text":{"field":"g"}}},
   {"data":{"name":"hC"},"transform":[{"filter":"datum.g=='MS4A6E'"}],"mark":{"type":"text","align":"left","dx":-2,"dy":-4.5},"encoding":{"x":{"field":"x","type":"quantitative"},"y":{"field":"z","type":"quantitative"},"text":{"field":"g"}}},
   {"data":{"name":"hC"},"transform":[{"filter":"indexof(['FNBP4','PLIN2'],datum.g)>=0"}],"mark":{"type":"text","align":"right","dx":-1,"dy":5.5},"encoding":{"x":{"field":"x","type":"quantitative"},"y":{"field":"z","type":"quantitative"},"text":{"field":"g"}}},
   {"data":{"name":"hC"},"transform":[{"filter":"datum.g=='APOE'"}],"mark":{"type":"text","align":"right","dx":-2,"dy":7},"encoding":{"x":{"field":"x","type":"quantitative"},"y":{"field":"z","type":"quantitative"},"text":{"field":"g"}}}
  ]}]},
{"title":{"text":"D","anchor":"start","frame":"bounds","offset":0},
 "vconcat":[{"width":353,"height":170,
  "title":{"text":"LPS24","anchor":"middle","frame":"bounds","offset":-2},
  "resolve":{"scale":{"color":"independent"}},
  "layer":[
   {"data":{"name":"genes"},"mark":{"type":"circle","size":8,"opacity":1},
    "encoding":{
     "x":{"field":"x","type":"quantitative","scale":{"domain":[-134,3015],"nice":false,"zero":false},
      "axis":{"title":"Chromosome","tickCount":40,"labelOverlap":false,"values":[125,373,581,790,1004,1154,1326,1470,1648,1768,1878,2006,2129,2260,2370,2469,2543,2630,2699,2758,2818,2862],"labelExpr":"indexof([125,373,581,790,1004,1154,1326,1470,1648,1768,1878,2006,2129,2260,2370,2469,2543,2630,2699,2758,2818,2862],datum.value)+1"}},
     "y":{"field":"d","type":"quantitative","scale":{"domain":[-9.75,9.75],"nice":false,"zero":false},"axis":{"title":"Z score","values":[-5,0,5]}},
     "color":{"field":"x","type":"quantitative","scale":{"type":"threshold","domain":[249,492,690,881,1062,1233,1392,1538,1679,1815,1950,2084,2199,2306,2409,2499,2580,2658,2717,2780,2828],"range":["#4d4d4d","#b5b5b5","#4d4d4d","#b5b5b5","#4d4d4d","#b5b5b5","#4d4d4d","#b5b5b5","#4d4d4d","#b5b5b5","#4d4d4d","#b5b5b5","#4d4d4d","#b5b5b5","#4d4d4d","#b5b5b5","#4d4d4d","#b5b5b5","#4d4d4d","#b5b5b5","#4d4d4d","#b5b5b5"]},"legend":null}}},
   {"data":{"values":[{}]},"mark":{"type":"rule","color":"#333333","strokeWidth":1},"encoding":{"y":{"datum":0,"type":"quantitative"}}},
   {"data":{"name":"hD"},"mark":{"type":"circle","size":18,"opacity":1},"encoding":{"x":{"field":"x","type":"quantitative"},"y":{"field":"z","type":"quantitative"},"color":{"field":"t","type":"nominal","scale":{"domain":["b","r"],"range":["#0a0acc","#e01a1a"]},"legend":null}}},
   {"data":{"name":"hD"},"transform":[{"filter":"indexof(['LACTB2','PTK2B','MS4A6E'],datum.g)>=0"}],"mark":{"type":"text","align":"right","dx":1,"dy":5},"encoding":{"x":{"field":"x","type":"quantitative"},"y":{"field":"z","type":"quantitative"},"text":{"field":"g"}}},
   {"data":{"name":"hD"},"transform":[{"filter":"indexof(['SPI1','PVR'],datum.g)>=0"}],"mark":{"type":"text","align":"right","dx":-3.5,"dy":5.5},"encoding":{"x":{"field":"x","type":"quantitative"},"y":{"field":"z","type":"quantitative"},"text":{"field":"g"}}},
   {"data":{"name":"hD"},"transform":[{"filter":"datum.g=='BIN1'"}],"mark":{"type":"text","align":"left","dx":3,"dy":-4},"encoding":{"x":{"field":"x","type":"quantitative"},"y":{"field":"z","type":"quantitative"},"text":{"field":"g"}}}
  ]}]}
],"spacing":34}
],
"spacing":25,
"config":{
 "font":"Liberation Sans",
 "view":{"stroke":null},
 "axis":{"grid":false,"domainColor":"#222222","tickColor":"#222222","labelColor":"#333333","titleColor":"#111111","titleFontWeight":"normal","tickSize":3,"labelFontSize":10,"titleFontSize":11,"labelPadding":2},
 "axisX":{"labelAngle":-90,"labelAlign":"center","labelBaseline":"middle","labelFontSize":7,"labelPadding":5,"titlePadding":4,"labelOverlap":false,"labelFlush":false},
 "axisY":{"titlePadding":4},
 "title":{"fontSize":12,"fontWeight":"bold","color":"#111111"},
 "text":{"fontSize":7,"color":"#222222"}
}
}
